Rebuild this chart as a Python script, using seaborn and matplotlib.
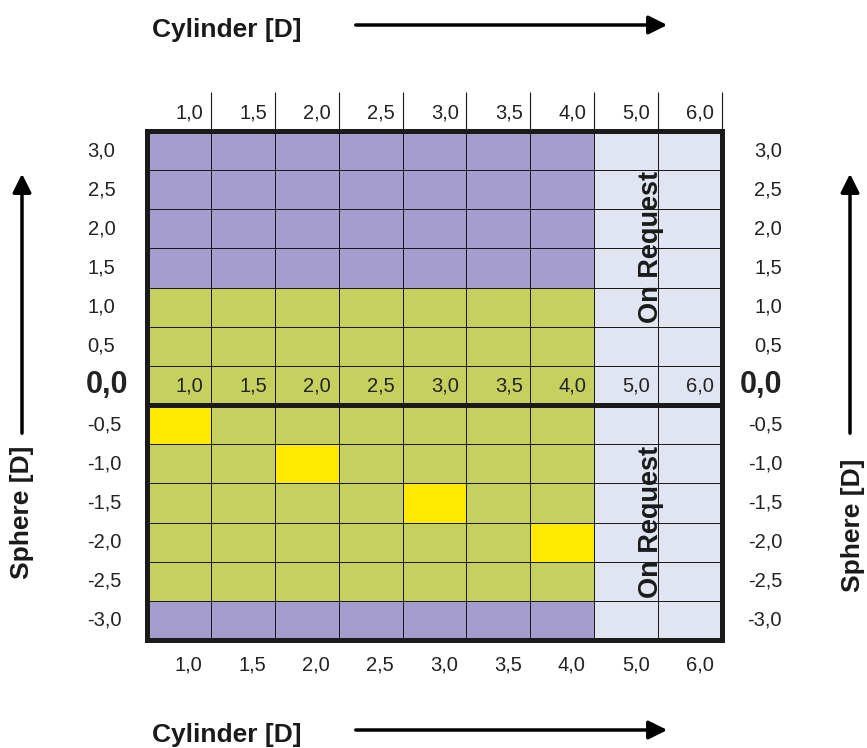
import numpy as np
import matplotlib
matplotlib.use('Agg')
import matplotlib.pyplot as plt
from matplotlib.colors import ListedColormap
import seaborn as sns

# data
cylinder = ['1,0', '1,5', '2,0', '2,5', '3,0', '3,5', '4,0', '5,0', '6,0']
sphere = ['3,0', '2,5', '2,0', '1,5', '1,0', '0,5', '0,0',
          '-0,5', '-1,0', '-1,5', '-2,0', '-2,5', '-3,0']
# 0 = purple, 1 = green, 2 = yellow, 3 = on request
availability = [
    [0, 0, 0, 0, 0, 0, 0, 3, 3],
    [0, 0, 0, 0, 0, 0, 0, 3, 3],
    [0, 0, 0, 0, 0, 0, 0, 3, 3],
    [0, 0, 0, 0, 0, 0, 0, 3, 3],
    [1, 1, 1, 1, 1, 1, 1, 3, 3],
    [1, 1, 1, 1, 1, 1, 1, 3, 3],
    [1, 1, 1, 1, 1, 1, 1, 3, 3],
    [2, 1, 1, 1, 1, 1, 1, 3, 3],
    [1, 1, 2, 1, 1, 1, 1, 3, 3],
    [1, 1, 1, 1, 2, 1, 1, 3, 3],
    [1, 1, 1, 1, 1, 1, 2, 3, 3],
    [1, 1, 1, 1, 1, 1, 1, 3, 3],
    [0, 0, 0, 0, 0, 0, 0, 3, 3],
]
colors = ['#A59DCD', '#C6D05E', '#FFE900', '#E1E5F1']

sns.set_theme(style='white')
plt.rcParams['font.family'] = ['Liberation Sans', 'DejaVu Sans']

fig = plt.figure(figsize=(8.67, 7.48), dpi=100)
W, H = 867, 748
ax = fig.add_axes([147 / W, (H - 640) / H, 575 / W, 509 / H])

sns.heatmap(np.array(availability), ax=ax, cmap=ListedColormap(colors),
            vmin=-0.5, vmax=3.5, cbar=False, linewidths=0.6, linecolor='#1a1a1a',
            xticklabels=False, yticklabels=False)

for s in ax.spines.values():
    s.set_visible(True)
    s.set_linewidth(3.6)
    s.set_color('#1a1a1a')
ax.axhline(7, color='#1a1a1a', lw=3.6)

# column ticks above the grid
ax.vlines(range(1, 10), -1.0, 0, colors='#1a1a1a', lw=0.8, clip_on=False)

fs = 14.5
for i, c in enumerate(cylinder):
    ax.text(i + 0.88, -0.47, c, ha='right', va='center', fontsize=fs, color='#222222', clip_on=False)
    ax.text(i + 0.88, 6.5, c, ha='right', va='center', fontsize=fs, color='#222222')
    ax.text(i + 0.65, 13.65, c, ha='center', va='center', fontsize=fs, color='#222222', clip_on=False)

for j, s in enumerate(sphere):
    bold = s == '0,0'
    kw = dict(fontsize=22 if bold else fs, fontweight='bold' if bold else 'normal',
              va='center', color='#222222', clip_on=False)
    ax.text(-0.93 if not bold else -0.96, j + 0.5, s, ha='left', **kw)
    ax.text(9.94, j + 0.5, s, ha='right', **kw)

for y in (2.96, 9.99):
    ax.text(7.89, y, 'On Request', rotation=90, ha='center', va='center',
            fontsize=19.5, fontweight='bold', color='#1a1a1a')

# axis titles and arrows
for ty, ay in ((H - 30, H - 25), (13, 18)):
    fig.text(227 / W, ty / H, 'Cylinder [D]', ha='center', va='center',
             fontsize=19, fontweight='bold', color='#1a1a1a')
    ax.annotate('', xy=(670, ay), xytext=(353, ay), xycoords='figure pixels',
                textcoords='figure pixels',
                arrowprops=dict(arrowstyle='-|>', lw=2.5, color='black', mutation_scale=28))

for tx, ty, axx in ((22, H - 512, 22), (853, H - 525, 850)):
    fig.text(tx / W, ty / H, 'Sphere [D]', rotation=90, ha='center', va='center',
             fontsize=19, fontweight='bold', color='#1a1a1a')
    ax.annotate('', xy=(axx, H - 171), xytext=(axx, H - 436), xycoords='figure pixels',
                textcoords='figure pixels',
                arrowprops=dict(arrowstyle='-|>', lw=2.5, color='black', mutation_scale=28))

fig.savefig('out.png', dpi=100)
